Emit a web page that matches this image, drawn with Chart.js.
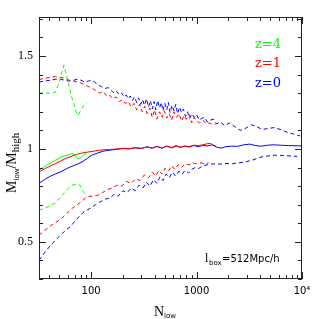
<!DOCTYPE html>
<html>
<head>
<meta charset="utf-8">
<script src="https://cdn.jsdelivr.net/npm/chart.js@4"></script>
<style>
  html, body { margin: 0; padding: 0; background: #fff; }
  canvas { display: block; }
</style>
</head>
<body>
<canvas id="chart" width="319" height="319"></canvas>
<script>
// x = N_low, y = M_low / M_high
const xTicks = [100, 1000, 10000];
const xTickLabels = ['100', '1000', '10\u2074'];
const xMinorTicks = [40, 50, 60, 70, 80, 90, 200, 300, 400, 500, 600, 700, 800, 900,
                     2000, 3000, 4000, 5000, 6000, 7000, 8000, 9000];
const yTicks = [0.5, 1, 1.5];
const yTickLabels = ['0.5', '1', '1.5'];
const yMinorTicks = [0.3, 0.4, 0.6, 0.7, 0.8, 0.9, 1.1, 1.2, 1.3, 1.4, 1.6, 1.7];

// z=4 (green)
const greenUpN = [32, 36, 41, 46, 51, 55, 60, 66, 72, 75, 80, 86, 91];
const greenUpV = [1.30, 1.30, 1.30, 1.305, 1.38, 1.45, 1.37, 1.27, 1.20, 1.18, 1.21, 1.24, 1.25];
const greenMidN = [32, 36, 41, 46, 51, 56, 62, 66, 70, 75, 80, 86, 92];
const greenMidV = [0.885, 0.905, 0.925, 0.94, 0.955, 0.963, 0.97, 0.975, 0.97, 0.945, 0.955, 0.97, 0.98];
const greenLowN = [32, 36, 41, 46, 51, 56, 60, 66, 72, 78, 84, 91];
const greenLowV = [0.67, 0.68, 0.695, 0.71, 0.74, 0.765, 0.785, 0.805, 0.81, 0.805, 0.77, 0.745];

// z=1 (red)
const redUpN = [32, 36, 41, 46, 51, 56, 62, 68, 74, 80, 87, 95, 100, 110, 120, 130, 140, 150, 160, 172,
                185, 198, 210, 225, 240, 255, 270, 288, 305, 322, 340, 360, 380, 400, 420, 445, 470, 495,
                520, 550, 580, 610, 645, 680, 720, 760, 800, 850, 900, 950, 1000, 1070, 1150, 1230, 1320,
                1420, 1520];
const redUpV = [1.373, 1.38, 1.385, 1.39, 1.385, 1.38, 1.37, 1.365, 1.36, 1.355, 1.345, 1.335, 1.33, 1.315,
                1.30, 1.31, 1.285, 1.29, 1.27, 1.28, 1.255, 1.265, 1.245, 1.255, 1.225, 1.245, 1.21, 1.24,
                1.20, 1.23, 1.19, 1.22, 1.17, 1.21, 1.16, 1.20, 1.17, 1.205, 1.165, 1.19, 1.155, 1.20, 1.17,
                1.19, 1.15, 1.18, 1.16, 1.185, 1.14, 1.17, 1.15, 1.14, 1.155, 1.135, 1.14, 1.13, 1.135];
const redMidN = [32, 36, 41, 46, 51, 58, 66, 74, 82, 92, 104, 115, 130, 150, 175, 200, 230, 260, 300, 340,
                 380, 420, 470, 520, 580, 640, 700, 770, 850, 940, 1040, 1150, 1260, 1350, 1450, 1530];
const redMidV = [0.876, 0.893, 0.908, 0.922, 0.934, 0.95, 0.962, 0.972, 0.978, 0.983, 0.987, 0.992, 0.995,
                 0.997, 1.0, 1.003, 1.002, 1.006, 1.004, 1.01, 1.006, 1.012, 1.005, 1.014, 1.008, 1.015,
                 1.01, 1.016, 1.012, 1.02, 1.018, 1.022, 1.028, 1.03, 1.02, 1.015];
const redLowN = [32, 36, 41, 46, 51, 58, 66, 74, 80, 88, 95, 104, 115, 128, 142, 158, 175, 195, 215, 240,
                 265, 290, 320, 350, 380, 410, 440, 470, 500, 540, 580, 620, 670, 720, 780, 850, 920, 1000,
                 1100, 1200, 1300];
const redLowV = [0.536, 0.56, 0.585, 0.605, 0.62, 0.65, 0.68, 0.70, 0.715, 0.735, 0.745, 0.745, 0.75, 0.765,
                 0.78, 0.79, 0.805, 0.80, 0.825, 0.815, 0.84, 0.83, 0.86, 0.845, 0.875, 0.855, 0.885, 0.865,
                 0.895, 0.88, 0.91, 0.89, 0.915, 0.90, 0.92, 0.915, 0.925, 0.92, 0.925, 0.92, 0.925];

// z=0 (blue)
const blueUpN = [32, 36, 41, 46, 51, 56, 62, 68, 74, 80, 87, 94, 100, 108, 116, 125, 135, 145, 155, 165,
                 175, 185, 195, 205, 215, 225, 235, 245, 258, 270, 282, 295, 308, 320, 335, 350, 365, 380,
                 395, 410, 428, 445, 463, 480, 500, 520, 540, 560, 585, 610, 635, 660, 690, 720, 750, 785,
                 820, 860, 900, 950, 1000, 1060, 1120, 1190, 1260, 1350, 1450, 1550, 1680, 1850, 2050,
                 2300, 2600, 2800, 3300, 3700, 4200, 4800, 5400, 6200, 7200, 8300, 9600];
const blueUpV = [1.36, 1.365, 1.37, 1.375, 1.375, 1.37, 1.365, 1.37, 1.375, 1.37, 1.36, 1.365, 1.37, 1.36,
                 1.345, 1.335, 1.325, 1.33, 1.315, 1.30, 1.31, 1.29, 1.30, 1.28, 1.29, 1.27, 1.285, 1.26,
                 1.28, 1.25, 1.275, 1.24, 1.265, 1.235, 1.27, 1.225, 1.26, 1.215, 1.255, 1.21, 1.26, 1.22,
                 1.25, 1.205, 1.245, 1.21, 1.25, 1.195, 1.235, 1.205, 1.24, 1.19, 1.225, 1.195, 1.215, 1.175,
                 1.2, 1.165, 1.19, 1.17, 1.185, 1.155, 1.165, 1.17, 1.145, 1.155, 1.16, 1.135, 1.145, 1.125,
                 1.14, 1.12, 1.10, 1.105, 1.13, 1.12, 1.105, 1.11, 1.115, 1.105, 1.09, 1.08, 1.07];
const blueMidN = [32, 36, 41, 46, 51, 58, 66, 74, 82, 92, 100, 114, 130, 150, 175, 200, 230, 260, 300, 340,
                  380, 420, 470, 520, 580, 640, 700, 770, 850, 940, 1040, 1150, 1260, 1400, 1550, 1700,
                  1900, 2150, 2450, 2800, 3200, 3600, 4100, 4700, 5400, 6300, 7500, 9000, 9900];
const blueMidV = [0.815, 0.835, 0.853, 0.866, 0.876, 0.893, 0.907, 0.918, 0.93, 0.95, 0.965, 0.977, 0.988,
                  0.993, 0.998, 1.002, 1.0, 1.006, 1.002, 1.012, 1.003, 1.014, 1.004, 1.016, 1.006, 1.018,
                  1.008, 1.015, 1.01, 1.018, 1.012, 1.02, 1.016, 1.022, 1.01, 1.004, 1.012, 1.015, 1.014,
                  1.022, 1.026, 1.018, 1.015, 1.02, 1.022, 1.02, 1.018, 1.017, 1.016];
const blueLowN = [32, 36, 41, 46, 51, 58, 63, 70, 78, 87, 98, 110, 122, 136, 150, 165, 180, 200, 220, 240,
                  262, 285, 310, 335, 362, 390, 420, 450, 480, 515, 550, 590, 630, 680, 730, 780, 840, 900,
                  970, 1050, 1150, 1280, 1450, 1650, 1900, 2200, 2500, 2900, 3400, 4000, 4700, 5500, 6500,
                  7700, 9000];
const blueLowV = [0.40, 0.44, 0.48, 0.51, 0.535, 0.565, 0.58, 0.61, 0.64, 0.665, 0.68, 0.70, 0.715, 0.73,
                  0.735, 0.755, 0.745, 0.775, 0.765, 0.79, 0.775, 0.805, 0.79, 0.82, 0.80, 0.835, 0.815,
                  0.85, 0.83, 0.865, 0.845, 0.875, 0.855, 0.88, 0.865, 0.885, 0.87, 0.89, 0.90, 0.895, 0.91,
                  0.915, 0.92, 0.918, 0.922, 0.92, 0.925, 0.93, 0.94, 0.955, 0.962, 0.966, 0.965, 0.962, 0.96];

const GREEN = '#00ff00', RED = '#ff0000', BLUE = '#0000ff';

function pts(n, v) {
    return n.map((x, i) => ({ x: x, y: v[i] }));
}

function series(n, v, color, dashed) {
    return {
        data: pts(n, v),
        borderColor: color,
        borderWidth: 1,
        borderDash: dashed ? [4, 3] : [],
        pointRadius: 0,
        fill: false,
        tension: 0,
        showLine: true
    };
}

// inward tick marks, frame and the text labels
const framePlugin = {
    id: 'frame',
    afterDatasetsDraw(chart) {
        const { ctx, chartArea: a, scales: { x, y } } = chart;
        ctx.save();
        ctx.strokeStyle = '#222';
        ctx.lineWidth = 1;
        ctx.strokeRect(a.left + 0.5, a.top + 0.5, a.right - a.left - 1, a.bottom - a.top - 1);

        ctx.beginPath();
        const yTick = (v, len) => {
            const p = Math.round(y.getPixelForValue(v)) + 0.5;
            ctx.moveTo(a.left, p); ctx.lineTo(a.left + len, p);
            ctx.moveTo(a.right, p); ctx.lineTo(a.right - len, p);
        };
        const xTick = (v, len) => {
            const p = Math.round(x.getPixelForValue(v)) + 0.5;
            ctx.moveTo(p, a.bottom); ctx.lineTo(p, a.bottom - len);
            ctx.moveTo(p, a.top); ctx.lineTo(p, a.top + len);
        };
        yTicks.forEach(v => yTick(v, 7));
        yMinorTicks.forEach(v => yTick(v, 4));
        xTicks.forEach(v => xTick(v, 7));
        xMinorTicks.forEach(v => xTick(v, 4));
        ctx.stroke();

        // legend text
        ctx.textAlign = 'right';
        ctx.textBaseline = 'alphabetic';
        ctx.font = '13px "DejaVu Serif"';
        ctx.fillStyle = GREEN; ctx.fillText('z=4', 281, 48);
        ctx.fillStyle = RED; ctx.fillText('z=1', 281, 67);
        ctx.fillStyle = BLUE; ctx.fillText('z=0', 281, 87);

        // box size label
        ctx.fillStyle = '#000';
        ctx.textAlign = 'left';
        ctx.font = '12px "Liberation Serif"';
        ctx.fillText('l', 205, 262);
        ctx.font = '7px "DejaVu Sans"';
        ctx.fillText('box', 209, 265);
        ctx.font = '10px "DejaVu Sans"';
        ctx.fillText('=512Mpc/h', 222, 262);

        // x title
        ctx.font = '14px "Liberation Serif"';
        ctx.fillText('N', 154, 316);
        ctx.font = '7px "DejaVu Sans"';
        ctx.fillText('low', 164, 318);

        // y title, rotated
        ctx.translate(16, 193);
        ctx.rotate(-Math.PI / 2);
        let cx = 0;
        const part = (t, font, dy) => {
            ctx.font = font;
            ctx.fillText(t, cx, dy);
            cx += ctx.measureText(t).width;
        };
        part('M', '14px "Liberation Serif"', 0);
        part('low', '7px "DejaVu Sans"', 3);
        part('/', '14px "Liberation Serif"', 0);
        part('M', '14px "Liberation Serif"', 0);
        part('high', '11px "Liberation Serif"', 3);
        ctx.restore();
    }
};

new Chart(document.getElementById('chart'), {
    type: 'scatter',
    data: {
        datasets: [
            series(greenUpN, greenUpV, GREEN, true),
            series(greenMidN, greenMidV, GREEN, false),
            series(greenLowN, greenLowV, GREEN, true),
            series(redUpN, redUpV, RED, true),
            series(redMidN, redMidV, RED, false),
            series(redLowN, redLowV, RED, true),
            series(blueUpN, blueUpV, BLUE, true),
            series(blueMidN, blueMidV, BLUE, false),
            series(blueLowN, blueLowV, BLUE, true)
        ]
    },
    options: {
        responsive: false,
        animation: false,
        devicePixelRatio: 1,
        layout: { padding: { top: 17, right: 17, left: 0, bottom: 0 } },
        plugins: { legend: { display: false }, tooltip: { enabled: false } },
        scales: {
            x: {
                type: 'logarithmic',
                min: 32,
                max: 10000,
                grid: { display: false, drawTicks: false },
                border: { display: false },
                afterBuildTicks: s => { s.ticks = xTicks.map(v => ({ value: v })); },
                afterFit: s => { s.height = 40; },
                ticks: {
                    autoSkip: false,
                    maxRotation: 0,
                    padding: 6,
                    color: '#000',
                    font: { family: 'DejaVu Sans', size: 10 },
                    callback: v => xTickLabels[xTicks.indexOf(v)]
                }
            },
            y: {
                type: 'linear',
                min: 0.3,
                max: 1.71,
                grid: { display: false, drawTicks: false },
                border: { display: false },
                afterBuildTicks: s => { s.ticks = yTicks.map(v => ({ value: v })); },
                afterFit: s => { s.width = 39; },
                ticks: {
                    autoSkip: false,
                    padding: 6,
                    color: '#000',
                    font: { family: 'Liberation Serif', size: 12 },
                    callback: v => yTickLabels[yTicks.indexOf(v)]
                }
            }
        }
    },
    plugins: [framePlugin]
});
</script>
</body>
</html>
